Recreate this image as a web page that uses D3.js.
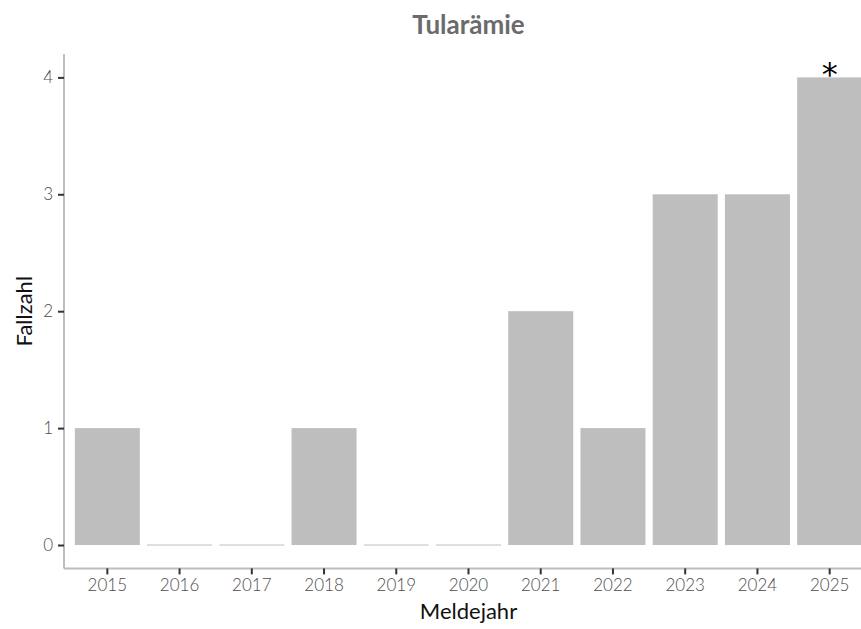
<!DOCTYPE html>
<html>
<head>
<meta charset="utf-8">
<script src="https://cdn.jsdelivr.net/npm/d3@7"></script>
<style>
  body { margin: 0; background: #fff; }
  svg { display: block; font-family: Lato, "Open Sans", sans-serif; }
</style>
</head>
<body>
<svg id="chart" width="861" height="629"></svg>
<script>
var years = ["2015", "2016", "2017", "2018", "2019", "2020", "2021", "2022", "2023", "2024", "2025"];
var cases = [1, 0, 0, 1, 0, 0, 2, 1, 3, 3, 4];
var yTicks = [0, 1, 2, 3, 4];
var markedYear = "2025";   // preliminary data, marked with *

var svg = d3.select("#chart"),
    pLeft = 64, pRight = 873, pTop = 54, pBottom = 568.4;

var x = d3.scaleBand()
    .domain(years)
    .range([pLeft, pRight])
    .paddingInner(0.1)
    .paddingOuter(0.15);

var y = d3.scaleLinear()
    .domain([-0.2, 4.2])
    .range([pBottom, pTop]);

// bars (zero years still show a thin line)
svg.append("g")
  .selectAll("rect")
  .data(years)
  .enter().append("rect")
    .attr("x", function(d) { return x(d); })
    .attr("width", x.bandwidth())
    .attr("y", function(d, i) { return y(cases[i]) - (cases[i] === 0 ? 0.5 : 0); })
    .attr("height", function(d, i) { return cases[i] === 0 ? 1 : y(0) - y(cases[i]); })
    .attr("fill", "#bebebe");

// asterisk
svg.append("text")
    .attr("x", x(markedYear) + x.bandwidth() / 2)
    .attr("y", y(cases[years.indexOf(markedYear)]) + 8)
    .attr("text-anchor", "middle")
    .attr("font-size", 32)
    .attr("font-family", "DejaVu Sans, sans-serif")
    .attr("fill", "#000")
    .text("*");

// y axis
var gy = svg.append("g")
    .attr("transform", "translate(" + pLeft + ",0)")
    .call(d3.axisLeft(y).tickValues(yTicks).tickSize(6).tickPadding(5).tickFormat(d3.format("d")));
gy.select(".domain").attr("stroke", "#bdbdbd").attr("stroke-width", 2)
    .attr("d", "M0," + pTop + "V" + pBottom);
gy.selectAll(".tick line").attr("stroke", "#333").attr("stroke-width", 2);
gy.selectAll(".tick text").attr("fill", "#4d4d4d").attr("font-size", 17).attr("font-weight", 300)
    .attr("font-family", "Lato, sans-serif");

// x axis
var gx = svg.append("g")
    .attr("transform", "translate(0," + pBottom + ")")
    .call(d3.axisBottom(x).tickSize(6).tickPadding(5));
gx.select(".domain").attr("stroke", "#bdbdbd").attr("stroke-width", 2)
    .attr("d", "M" + pLeft + ",0H" + pRight);
gx.selectAll(".tick line").attr("stroke", "#333").attr("stroke-width", 2);
gx.selectAll(".tick text").attr("fill", "#4d4d4d").attr("font-size", 17).attr("font-weight", 300)
    .attr("font-family", "Lato, sans-serif");

// titles
svg.append("text")
    .attr("x", (pLeft + pRight) / 2)
    .attr("y", 34)
    .attr("text-anchor", "middle")
    .attr("font-size", 26)
    .attr("font-weight", "bold")
    .attr("fill", "#6b6b6b")
    .text("Tularämie");

svg.append("text")
    .attr("x", (pLeft + pRight) / 2)
    .attr("y", 619)
    .attr("text-anchor", "middle")
    .attr("font-size", 22)
    .attr("fill", "#111")
    .text("Meldejahr");

svg.append("text")
    .attr("transform", "translate(32," + (pTop + pBottom) / 2 + ") rotate(-90)")
    .attr("text-anchor", "middle")
    .attr("font-size", 22)
    .attr("fill", "#111")
    .text("Fallzahl");
</script>
</body>
</html>
